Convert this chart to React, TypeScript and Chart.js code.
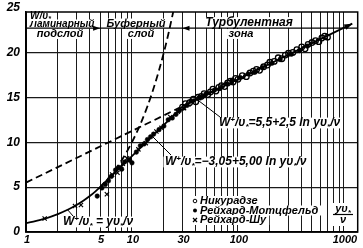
import React, { useEffect, useRef } from "react";
import { Chart, registerables } from "chart.js";

Chart.register(...registerables);

// ---- axis ticks ----
const xGridTicks = [1, 2, 3, 4, 5, 6, 7, 8, 9, 10, 20, 30, 40, 50, 60, 70, 80, 90, 100, 200, 300, 400, 500, 600, 700, 800, 900, 1000];
const xTickLabels = [1, 5, 10, 30, 100, 1000];
const yGridTicks = [0, 5, 10, 15, 20];
const yTickLabels = [0, 5, 10, 15, 20, 25];

// ---- curves ----
const linX = [1, 1.25, 1.5, 1.75, 2, 2.5, 3, 3.5, 4, 4.5, 5];
const linY = [1, 1.25, 1.5, 1.75, 2, 2.5, 3, 3.5, 4, 4.5, 5];
const linDashX = [5, 6, 7, 8, 9, 10, 12, 14, 16, 18, 20, 22, 24.5];
const linDashY = [5, 6, 7, 8, 9, 10, 12, 14, 16, 18, 20, 22, 24.5];
const bufX = [5, 6, 7, 8, 10, 12, 15, 20, 25, 30];
const bufY = [5.0, 5.91, 6.68, 7.35, 8.46, 9.37, 10.49, 11.93, 13.04, 13.96];
const logDashX = [1, 30];
const logDashY = [5.5, 14.0];
const logX = [30, 1200];
const logY = [14.0, 23.2];
const zoneLineValue = 22.7;

// ---- measurements ----
const nikX = [30, 32, 35, 38, 40, 42, 45, 48, 52, 55, 58, 62, 66, 70, 75, 80, 85, 90, 95, 100, 110, 120, 130, 140, 150, 160, 175, 190, 200, 220, 240, 260, 280, 300, 330, 360, 400, 430, 460, 500, 540, 580, 620, 660, 700];
const nikY = [13.9, 14.3, 14.4, 14.8, 14.5, 15.0, 15.1, 15.4, 15.3, 15.6, 15.9, 15.7, 16.1, 16.3, 16.2, 16.6, 16.8, 16.7, 17.1, 17.0, 17.4, 17.3, 17.7, 17.9, 18.1, 18.0, 18.4, 18.6, 18.9, 19.0, 19.4, 19.3, 19.7, 19.9, 20.0, 20.3, 20.6, 20.4, 20.9, 21.1, 21.3, 21.2, 21.6, 21.8, 21.7];
const rmX = [4.7, 5.2, 5.6, 6.0, 6.4, 7.0, 7.5, 8.0, 8.5, 9.5, 10, 11, 12, 13, 14, 15, 16, 18, 20, 22, 24, 26, 28, 33, 36, 44, 50, 60, 68, 78, 88, 105, 125, 145, 170, 210, 250, 320, 380, 450];
const rmY = [4.0, 4.9, 5.3, 5.7, 6.2, 6.9, 7.2, 7.0, 7.8, 8.0, 7.7, 8.9, 9.6, 9.8, 10.3, 10.6, 10.9, 11.4, 11.8, 12.5, 12.7, 13.1, 13.5, 14.1, 14.6, 15.0, 15.4, 15.8, 16.0, 16.5, 16.9, 17.2, 17.6, 17.8, 18.3, 18.8, 19.2, 19.8, 20.2, 20.7];
const rsX = [1.5, 2.9, 3.3, 5.8, 6.5, 7.3, 8.2, 9, 11.5, 13.5, 17, 19, 23, 27, 31, 34, 37, 43, 47, 53];
const rsY = [1.5, 2.9, 3.0, 4.2, 6.4, 6.6, 7.6, 8.2, 9.2, 9.9, 11.2, 11.6, 12.8, 13.4, 13.8, 14.2, 14.6, 14.9, 15.2, 15.5];

const legendLabels = ["Никурадзе", "Рейхард-Мотцфельд", "Рейхард-Шу"];

const FONT = '"Liberation Sans", Arial, sans-serif';

const pts = (xs: number[], ys: number[]) => xs.map((x, i) => ({ x, y: ys[i] }));

type Seg = [string, number];

function drawRich(ctx: CanvasRenderingContext2D, segs: Seg[], x: number, y: number, size: number, align: "left" | "center", bg: boolean) {
  const fontFor = (m: number) => `italic bold ${m === 0 ? size : Math.round(size * 0.7)}px ${FONT}`;
  let w = 0;
  for (const [t, m] of segs) {
    ctx.font = fontFor(m);
    w += ctx.measureText(t).width;
  }
  let cx = align === "center" ? x - w / 2 : x;
  if (bg) {
    ctx.fillStyle = "#fff";
    ctx.fillRect(cx - 1.5, y - size * 0.45, w + 3, size * 0.9);
  }
  ctx.fillStyle = "#000";
  ctx.textBaseline = "middle";
  ctx.textAlign = "left";
  for (const [t, m] of segs) {
    ctx.font = fontFor(m);
    const dy = m === 1 ? -size * 0.3 : m === -1 ? size * 0.3 : 0;
    ctx.fillText(t, cx, y + dy);
    cx += ctx.measureText(t).width;
  }
}

function arrowHead(ctx: CanvasRenderingContext2D, tx: number, ty: number, fx: number, fy: number, len: number, half: number) {
  const ang = Math.atan2(ty - fy, tx - fx);
  ctx.beginPath();
  ctx.moveTo(tx, ty);
  ctx.lineTo(tx - len * Math.cos(ang) + half * Math.sin(ang), ty - len * Math.sin(ang) - half * Math.cos(ang));
  ctx.lineTo(tx - len * Math.cos(ang) - half * Math.sin(ang), ty - len * Math.sin(ang) + half * Math.cos(ang));
  ctx.closePath();
  ctx.fill();
}

const annotPlugin = {
  id: "annot",
  afterDraw(chart: any) {
    const ctx: CanvasRenderingContext2D = chart.ctx;
    const xs = chart.scales.x;
    const ys = chart.scales.y;
    const a = chart.chartArea;
    ctx.save();

    // tick labels
    ctx.fillStyle = "#000";
    ctx.font = `italic bold 12px ${FONT}`;
    ctx.textAlign = "right";
    ctx.textBaseline = "middle";
    for (const v of yTickLabels) ctx.fillText(String(v), 20, ys.getPixelForValue(v));
    ctx.font = `italic bold 11px ${FONT}`;
    ctx.textAlign = "center";
    for (const v of xTickLabels) ctx.fillText(String(v), xs.getPixelForValue(v) + 1, 240);

    // zone labels
    drawRich(ctx, [["Ламинарный", 0]], a.left + 4, 24, 10, "left", true);
    drawRich(ctx, [["W/υ", 0], ["*", -1]], a.left + 4, 16.5, 10, "left", true);
    drawRich(ctx, [["подслой", 0]], 60, 34, 11, "center", true);
    drawRich(ctx, [["Буферный", 0]], 136, 23.5, 11, "center", true);
    drawRich(ctx, [["слой", 0]], 141, 34, 11, "center", true);
    drawRich(ctx, [["Турбулентная", 0]], 249, 22.5, 12, "center", true);
    drawRich(ctx, [["зона", 0]], 241, 34, 11, "center", true);

    // zone line with arrows
    const zy = ys.getPixelForValue(zoneLineValue);
    ctx.strokeStyle = "#000";
    ctx.lineWidth = 1.3;
    ctx.beginPath();
    ctx.moveTo(a.left, zy);
    ctx.lineTo(a.right, zy);
    ctx.stroke();
    ctx.fillStyle = "#000";
    const p5 = xs.getPixelForValue(5);
    arrowHead(ctx, p5, zy, p5 - 10, zy, 7, 2.5);
    const p30 = xs.getPixelForValue(30);
    arrowHead(ctx, p30, zy, p30 + 10, zy, 7, 2.5);

    // arrow at the end of log law
    const ex = xs.getPixelForValue(logX[1]);
    const ey = ys.getPixelForValue(logY[1]);
    const sx = xs.getPixelForValue(logX[0]);
    const sy = ys.getPixelForValue(logY[0]);
    arrowHead(ctx, ex, ey, sx, sy, 8, 3);

    // formula labels + leaders
    ctx.lineWidth = 1;
    const leader = (x1: number, y1: number, x2: number, y2: number) => {
      ctx.beginPath();
      ctx.moveTo(x1, y1);
      ctx.lineTo(x2, y2);
      ctx.stroke();
    };
    leader(199, 101, 220, 117);
    drawRich(ctx, [["W", 0], ["+", 1], ["/υ", 0], ["*", -1], ["=5,5+2,5 ln yυ", 0], ["*", -1], ["/ν", 0]], 219, 123, 12, "left", true);
    leader(152, 136, 171, 155);
    drawRich(ctx, [["W", 0], ["+", 1], ["/υ", 0], ["*", -1], ["=−3,05+5,00 ln yυ", 0], ["*", -1], ["/ν", 0]], 165, 162, 12, "left", true);
    leader(67, 209, 73, 216);
    drawRich(ctx, [["W", 0], ["+", 1], ["/υ", 0], ["*", -1], [" = yυ", 0], ["*", -1], ["/ν", 0]], 63, 222, 12, "left", true);

    // legend
    const ly = [201, 210.5, 220];
    for (let i = 0; i < legendLabels.length; i++) {
      ctx.font = `italic bold 11px ${FONT}`;
      const w = ctx.measureText(legendLabels[i]).width;
      ctx.fillStyle = "#fff";
      ctx.fillRect(191, ly[i] - 5, w + 12, 10);
      ctx.fillStyle = "#000";
      ctx.strokeStyle = "#000";
      if (i === 0) {
        ctx.lineWidth = 1;
        ctx.beginPath();
        ctx.arc(195, ly[i], 1.8, 0, Math.PI * 2);
        ctx.stroke();
      } else if (i === 1) {
        ctx.beginPath();
        ctx.arc(195, ly[i], 2, 0, Math.PI * 2);
        ctx.fill();
      } else {
        ctx.lineWidth = 1.2;
        leader(193, ly[i] - 2, 197, ly[i] + 2);
        leader(193, ly[i] + 2, 197, ly[i] - 2);
      }
      drawRich(ctx, [[legendLabels[i], 0]], 200, ly[i], 11, "left", false);
    }

    // axis title fraction
    ctx.fillStyle = "#fff";
    ctx.fillRect(331, 203, 23, 23);
    drawRich(ctx, [["yυ", 0], ["*", -1]], 343, 209, 11, "center", false);
    ctx.strokeStyle = "#000";
    ctx.lineWidth = 1.2;
    leader(333, 214.5, 353, 214.5);
    drawRich(ctx, [["ν", 0]], 343, 220, 11, "center", false);

    // frame
    ctx.strokeStyle = "#000";
    ctx.lineWidth = 1.5;
    ctx.strokeRect(a.left, a.top, a.right - a.left, a.bottom - a.top);
    ctx.restore();
  },
};

export default function App() {
  const ref = useRef<HTMLCanvasElement | null>(null);
  useEffect(() => {
    if (!ref.current) return;
    const lineDs = (data: any[], dash: number[]) => ({
      type: "line" as const,
      data,
      borderColor: "#000",
      borderWidth: 1.8,
      borderDash: dash,
      pointRadius: 0,
      fill: false,
      showLine: true,
      cubicInterpolationMode: "monotone" as const,
    });
    const chart = new Chart(ref.current, {
      type: "scatter",
      data: {
        datasets: [
          lineDs(pts(linX, linY), []),
          lineDs(pts(linDashX, linDashY), [7, 4]),
          lineDs(pts(bufX, bufY), []),
          lineDs(pts(logDashX, logDashY), [7, 4]),
          lineDs(pts(logX, logY), []),
          {
            data: pts(nikX, nikY),
            pointStyle: "circle",
            pointRadius: 2.8,
            borderColor: "#000",
            borderWidth: 1.3,
            backgroundColor: "rgba(0,0,0,0)",
          },
          {
            data: pts(rmX, rmY),
            pointStyle: "circle",
            pointRadius: 2.3,
            borderColor: "#000",
            borderWidth: 0.5,
            backgroundColor: "#000",
          },
          {
            data: pts(rsX, rsY),
            pointStyle: "crossRot",
            pointRadius: 3,
            borderColor: "#000",
            borderWidth: 1.2,
          },
        ] as any,
      },
      options: {
        responsive: false,
        animation: false,
        layout: { padding: { top: 12, right: 4, left: 0, bottom: 0 } },
        plugins: { legend: { display: false }, tooltip: { enabled: false } },
        scales: {
          x: {
            type: "logarithmic",
            min: 1,
            max: 1350,
            afterBuildTicks: (s: any) => {
              s.ticks = xGridTicks.map((v) => ({ value: v }));
            },
            afterFit: (s: any) => {
              s.height = 16;
            },
            grid: { color: "#1a1a1a", lineWidth: 1, drawTicks: false },
            border: { color: "#000", width: 1.5 },
            ticks: { display: false },
          },
          y: {
            min: 0,
            max: 24.5,
            afterBuildTicks: (s: any) => {
              s.ticks = yGridTicks.map((v) => ({ value: v }));
            },
            afterFit: (s: any) => {
              s.width = 26;
            },
            grid: { color: "#1a1a1a", lineWidth: 1.2, drawTicks: false },
            border: { color: "#000", width: 1.5 },
            ticks: { display: false },
          },
        },
      } as any,
      plugins: [annotPlugin],
    });
    return () => chart.destroy();
  }, []);
  return (
    <div style={{ position: "absolute", left: 0, top: 0, width: 363, height: 248, background: "#fff" }}>
      <canvas ref={ref} width={363} height={248} style={{ display: "block" }} />
    </div>
  );
}
